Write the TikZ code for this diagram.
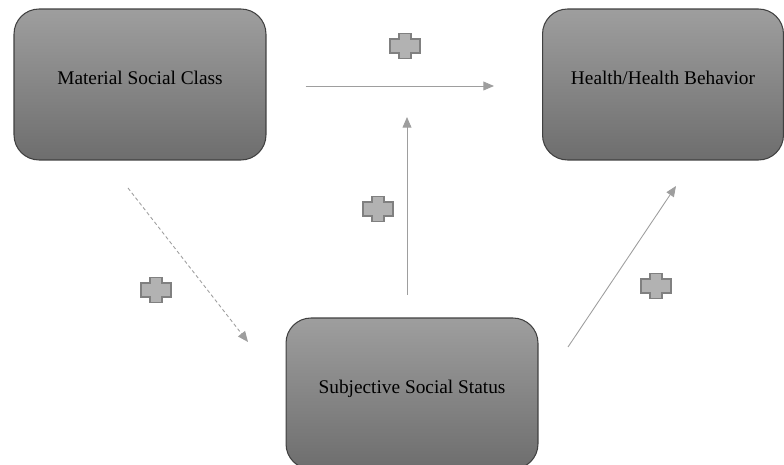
\documentclass[tikz,border=0pt]{standalone}
\usepackage{fontspec}
\setmainfont{Liberation Serif}
\usepackage{tikz}
\usetikzlibrary{calc,arrows.meta}

\tikzset{
  factor/.style={draw=black!75, line width=0.6pt, rounded corners=0.5cm,
    top color=black!38, bottom color=black!57, minimum width=5.04cm,
    minimum height=3.02cm, inner sep=0pt, text height=0.28cm, text depth=0.28cm,
    font=\fontsize{11}{13}\selectfont},
  effect/.style={draw=black!38, line width=0.5pt, -{Triangle[length=6pt,width=5pt]}},
  plussign/.pic={
    \filldraw[fill=black!30, draw=black!50, line width=0.8pt]
      (-6,-12.5) -- (6,-12.5) -- (6,-7) -- (15,-7) -- (15,7)
      -- (6,7) -- (6,12.5) -- (-6,12.5) -- (-6,7) -- (-15,7)
      -- (-15,-7) -- (-6,-7) -- cycle;
  }
}

\begin{document}
\begin{tikzpicture}[x=0.02cm, y=-0.02cm]
  \useasboundingbox (0,0) rectangle (784,465);
  \node[factor] (msc) at (140,84.5) {Material Social Class};
  \node[factor, minimum width=4.82cm] (hhb) at (663,84.5) {Health/Health Behavior};
  \node[factor] (sss) at (412,393.5) {Subjective Social Status};
  % free ends of the arrows
  \coordinate (a1) at ($(msc.east)+(39,1.5)$);
  \coordinate (a2) at ($(hhb.west)+(-48,1.5)$);
  \coordinate (b1) at (407,295);
  \coordinate (b2) at (407,117);
  \coordinate (c1) at (128,188);
  \coordinate (c2) at (248,342);
  \coordinate (d1) at (568,347);
  \coordinate (d2) at (676,186);
  \draw[effect] (a1) -- (a2);
  \draw[effect] (b1) -- (b2);
  \draw[effect, dash pattern=on 2pt off 1.5pt] (c1) -- (c2);
  \draw[effect] (d1) -- (d2);
  % plus signs
  \pic at (405,46) {plussign};
  \pic at (378,209) {plussign};
  \pic at (156,290) {plussign};
  \pic at (656,286) {plussign};
\end{tikzpicture}
\end{document}
